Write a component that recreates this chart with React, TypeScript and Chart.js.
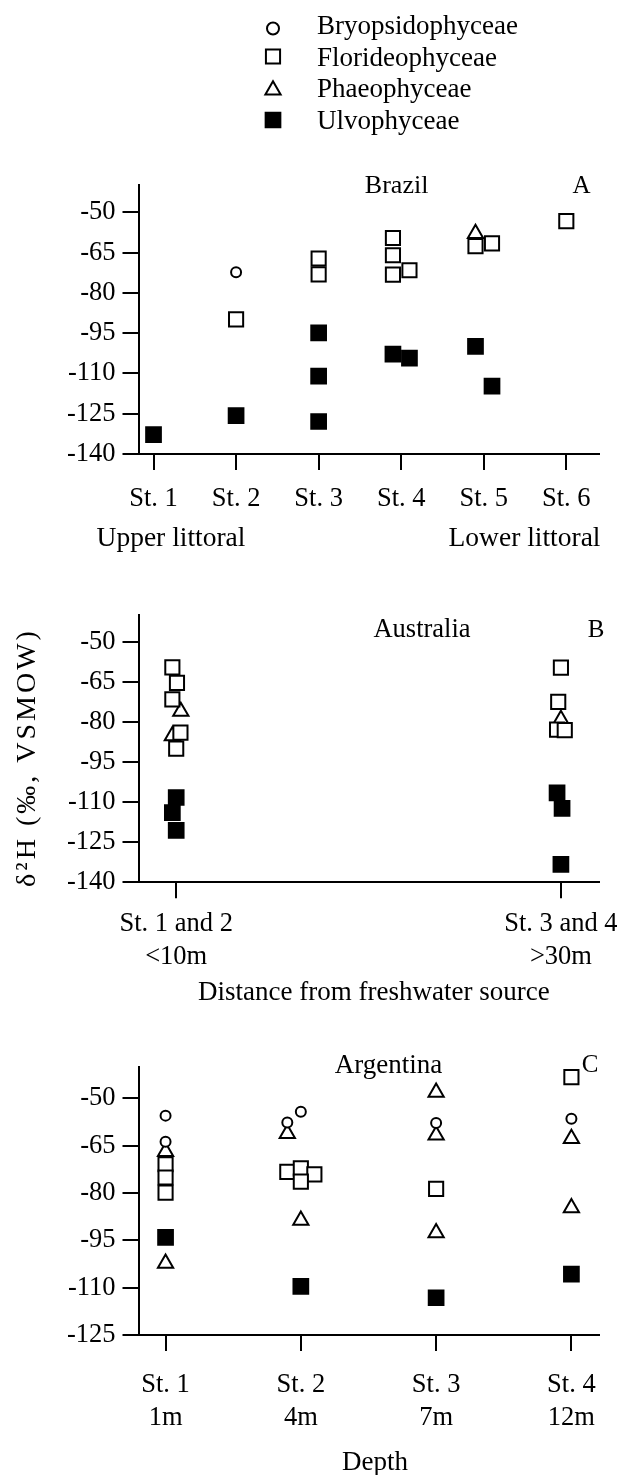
import React, { useEffect, useRef } from 'react';
import { Chart, registerables } from 'chart.js';

Chart.register(...registerables);

// ---------------- data ----------------
const classNames = ['Bryopsidophyceae', 'Florideophyceae', 'Phaeophyceae', 'Ulvophyceae'];

// Panel A – Brazil
const brazilTitle = 'Brazil';
const brazilLetter = 'A';
const brazilStationPos = [1, 2, 3, 4, 5, 6];
const brazilStations = ['St. 1', 'St. 2', 'St. 3', 'St. 4', 'St. 5', 'St. 6'];
const brazilZoneLabels = ['Upper littoral', 'Lower littoral'];
const brazilYTicks = [-50, -65, -80, -95, -110, -125, -140];
const brazilBryopsidophyceae = [[2, -72.3]];
const brazilFlorideophyceae = [
  [2, -89.9], [3, -67.2], [3, -73.1], [3.9, -59.6], [3.9, -66.0], [3.9, -73.2],
  [4.1, -71.6], [4.9, -62.6], [5.1, -61.6], [6, -53.3],
];
const brazilPhaeophyceae = [[4.9, -57.9]];
const brazilUlvophyceae = [
  [1, -132.8], [2, -125.7], [3, -94.9], [3, -111.0], [3, -127.9],
  [3.9, -102.8], [4.1, -104.3], [4.9, -99.9], [5.1, -114.7],
];

// Panel B – Australia
const australiaTitle = 'Australia';
const australiaLetter = 'B';
const australiaSitePos = [1, 2];
const australiaSites = [['St. 1 and 2', '<10m'], ['St. 3 and 4', '>30m']];
const australiaXTitle = 'Distance from freshwater source';
const australiaYTicks = [-50, -65, -80, -95, -110, -125, -140];
const australiaBryopsidophyceae: number[][] = [];
const australiaFlorideophyceae = [
  [0.99, -59.6], [1.002, -65.4], [0.99, -71.6], [1.011, -84.0], [1.0, -90.0],
  [2.0, -59.7], [1.993, -72.5], [1.99, -82.9], [2.01, -83.1],
];
const australiaPhaeophyceae = [[1.012, -76.1], [0.99, -85.2], [2.0, -79.1]];
const australiaUlvophyceae = [
  [1.0, -108.3], [0.99, -114.0], [1.0, -120.6],
  [1.99, -106.6], [2.003, -112.4], [2.0, -133.3],
];

// Panel C – Argentina
const argentinaTitle = 'Argentina';
const argentinaLetter = 'C';
const argentinaStationPos = [1, 2, 3, 4];
const argentinaStations = [['St. 1', '1m'], ['St. 2', '4m'], ['St. 3', '7m'], ['St. 4', '12m']];
const argentinaXTitle = 'Depth';
const argentinaYTicks = [-50, -65, -80, -95, -110, -125];
const argentinaBryopsidophyceae = [[1, -55.5], [1, -63.8], [2, -54.3], [1.9, -57.7], [3, -57.8], [4, -56.5]];
const argentinaFlorideophyceae = [
  [1, -70.9], [1, -75.1], [1, -79.9], [1.9, -73.3], [2, -72.2], [2.1, -74.1], [2, -76.4],
  [3, -78.7], [4, -43.3],
];
const argentinaPhaeophyceae = [
  [1, -66.9], [1, -102.3], [1.9, -61.2], [2, -88.7], [3, -48.1], [3, -61.7], [3, -92.6],
  [4, -62.8], [4, -84.7],
];
const argentinaUlvophyceae = [[1, -94.1], [2, -109.6], [3, -113.2], [4, -105.7]];

const yAxisTitle = 'δ²H (‰, VSMOW)';

// ---------------- styles ----------------
const FONT = '"Liberation Serif", "Times New Roman", serif';
const markerStyles = [
  { shape: 'circle', r: 5, fill: '#ffffff' },
  { shape: 'rect', r: 10, fill: '#ffffff' },
  { shape: 'triangle', r: 8.8, fill: '#ffffff' },
  { shape: 'rect', r: 10.4, fill: '#000000' },
];
const legendMarkerStyles = [
  { shape: 'circle', r: 6, fill: '#ffffff' },
  { shape: 'rect', r: 10, fill: '#ffffff' },
  { shape: 'triangle', r: 8.8, fill: '#ffffff' },
  { shape: 'rect', r: 10.4, fill: '#000000' },
];

type TextItem = { text: string; x: number; y: number; size: number; align?: CanvasTextAlign; rotate?: boolean; spacing?: number };

function drawMarker(ctx: CanvasRenderingContext2D, idx: number, x: number, y: number) {
  const st = legendMarkerStyles[idx];
  ctx.save();
  ctx.lineWidth = 2;
  ctx.strokeStyle = '#000';
  ctx.fillStyle = st.fill;
  ctx.beginPath();
  if (st.shape === 'circle') {
    ctx.arc(x, y, st.r, 0, Math.PI * 2);
  } else if (st.shape === 'rect') {
    const s = st.r * Math.SQRT1_2;
    ctx.rect(x - s, y - s, 2 * s, 2 * s);
  } else {
    let a = 0;
    ctx.moveTo(x + Math.sin(a) * st.r, y - Math.cos(a) * st.r);
    a += (2 * Math.PI) / 3;
    ctx.lineTo(x + Math.sin(a) * st.r, y - Math.cos(a) * st.r);
    a += (2 * Math.PI) / 3;
    ctx.lineTo(x + Math.sin(a) * st.r, y - Math.cos(a) * st.r);
  }
  ctx.closePath();
  ctx.fill();
  ctx.stroke();
  ctx.restore();
}

function textPlugin(items: TextItem[], offsetY: number, withLegend: boolean) {
  return {
    id: 'annotations',
    afterDraw(chart: any) {
      const ctx: CanvasRenderingContext2D = chart.ctx;
      ctx.save();
      ctx.fillStyle = '#000';
      ctx.textBaseline = 'alphabetic';
      for (const it of items) {
        ctx.font = `${it.size}px ${FONT}`;
        (ctx as any).letterSpacing = `${it.spacing || 0}px`;
        ctx.textAlign = it.align || 'center';
        if (it.rotate) {
          ctx.save();
          ctx.translate(it.x, it.y - offsetY);
          ctx.rotate(-Math.PI / 2);
          ctx.fillText(it.text, 0, 0);
          ctx.restore();
        } else {
          ctx.fillText(it.text, it.x, it.y - offsetY);
        }
      }
      (ctx as any).letterSpacing = '0px';
      if (withLegend) {
        const baselines = [34, 65.5, 97, 128.5];
        const markerY = [28.5, 56.5, 90, 120];
        ctx.font = `27px ${FONT}`;
        ctx.textAlign = 'left';
        classNames.forEach((name, i) => {
          drawMarker(ctx, i, 273, markerY[i] - offsetY);
          ctx.fillStyle = '#000';
          ctx.fillText(name, 317, baselines[i] - offsetY);
        });
      }
      ctx.restore();
    },
  };
}

type PanelDef = {
  top: number;
  height: number;
  padTop: number;
  xHeight: number;
  xMin: number;
  xMax: number;
  yMin: number;
  yMax: number;
  xTicks: number[];
  xLabels: (string | string[])[];
  yTicks: number[];
  xPad: number;
  lineHeight: number;
  series: number[][][];
  texts: TextItem[];
  legend: boolean;
};

const panels: PanelDef[] = [
  {
    top: 0, height: 560, padTop: 185.4, xHeight: 106,
    xMin: 0.818, xMax: 6.396, yMin: -140, yMax: -40,
    xTicks: brazilStationPos, xLabels: brazilStations, yTicks: brazilYTicks,
    xPad: 13.5, lineHeight: 1.2,
    series: [brazilBryopsidophyceae, brazilFlorideophyceae, brazilPhaeophyceae, brazilUlvophyceae],
    texts: [
      { text: brazilTitle, x: 396.6, y: 193, size: 26 },
      { text: brazilLetter, x: 581.5, y: 193, size: 25 },
      { text: brazilZoneLabels[0], x: 171, y: 546, size: 27.5 },
      { text: brazilZoneLabels[1], x: 524.5, y: 546, size: 27.5 },
    ],
    legend: true,
  },
  {
    top: 560, height: 450, padTop: 55.0, xHeight: 127.8,
    xMin: 0.902, xMax: 2.099, yMin: -140, yMax: -40,
    xTicks: australiaSitePos, xLabels: australiaSites, yTicks: australiaYTicks,
    xPad: 9, lineHeight: 1.257,
    series: [australiaBryopsidophyceae, australiaFlorideophyceae, australiaPhaeophyceae, australiaUlvophyceae],
    texts: [
      { text: australiaTitle, x: 422, y: 636.7, size: 26.5 },
      { text: australiaLetter, x: 596, y: 636.7, size: 25 },
      { text: australiaXTitle, x: 373.9, y: 1000, size: 27 },
      { text: yAxisTitle, x: 35, y: 757.5, size: 28, rotate: true, spacing: 3 },
    ],
    legend: false,
  },
  {
    top: 1010, height: 465, padTop: 56.7, xHeight: 140,
    xMin: 0.8, xMax: 4.204, yMin: -125, yMax: -40,
    xTicks: argentinaStationPos, xLabels: argentinaStations, yTicks: argentinaYTicks,
    xPad: 18.2, lineHeight: 1.223,
    series: [argentinaBryopsidophyceae, argentinaFlorideophyceae, argentinaPhaeophyceae, argentinaUlvophyceae],
    texts: [
      { text: argentinaTitle, x: 388.6, y: 1073, size: 27 },
      { text: argentinaLetter, x: 590, y: 1072, size: 25 },
      { text: argentinaXTitle, x: 374.9, y: 1470, size: 27 },
    ],
    legend: false,
  },
];

function buildConfig(p: PanelDef): any {
  return {
    type: 'scatter',
    data: {
      datasets: classNames.map((name, i) => ({
        label: name,
        data: p.series[i].map(([x, y]) => ({ x, y })),
        pointStyle: markerStyles[i].shape,
        pointRadius: markerStyles[i].r,
        pointHoverRadius: markerStyles[i].r,
        pointBackgroundColor: markerStyles[i].fill,
        pointBorderColor: '#000',
        pointBorderWidth: 2,
        showLine: false,
        clip: false,
      })),
    },
    options: {
      responsive: false,
      animation: false,
      events: [],
      layout: { padding: { top: p.padTop, left: 0, right: 18, bottom: 0 } },
      plugins: { legend: { display: false }, tooltip: { enabled: false }, title: { display: false } },
      scales: {
        x: {
          type: 'linear',
          bounds: 'data',
          min: p.xMin,
          max: p.xMax,
          afterBuildTicks: (s: any) => {
            s.ticks = p.xTicks.map((v) => ({ value: v }));
          },
          afterFit: (s: any) => {
            s.height = p.xHeight;
            s.paddingLeft = 0;
            s.paddingRight = 0;
          },
          ticks: {
            autoSkip: false,
            maxRotation: 0,
            minRotation: 0,
            padding: p.xPad,
            color: '#000',
            font: { family: FONT, size: 26.5, lineHeight: p.lineHeight },
            callback: (_v: any, i: number) => p.xLabels[i],
          },
          grid: { display: true, drawOnChartArea: false, drawTicks: true, tickLength: 16, color: '#000', lineWidth: 2 },
          border: { display: true, color: '#000', width: 2 },
        },
        y: {
          type: 'linear',
          bounds: 'data',
          min: p.yMin,
          max: p.yMax,
          afterBuildTicks: (s: any) => {
            s.ticks = p.yTicks.map((v) => ({ value: v }));
          },
          afterFit: (s: any) => {
            s.width = 138.5;
          },
          ticks: {
            autoSkip: false,
            padding: 7,
            color: '#000',
            font: { family: FONT, size: 26.5 },
            callback: (v: any) => String(v),
          },
          grid: { display: true, drawOnChartArea: false, drawTicks: true, tickLength: 16, color: '#000', lineWidth: 2 },
          border: { display: true, color: '#000', width: 2 },
        },
      },
    },
    plugins: [textPlugin(p.texts, p.top, p.legend)],
  };
}

function Panel({ p }: { p: PanelDef }) {
  const ref = useRef<HTMLCanvasElement | null>(null);
  useEffect(() => {
    if (!ref.current) return;
    const chart = new Chart(ref.current, buildConfig(p));
    return () => chart.destroy();
  }, [p]);
  return (
    <canvas
      ref={ref}
      width={617}
      height={p.height}
      style={{ position: 'absolute', left: 0, top: p.top, width: 617, height: p.height, display: 'block' }}
    />
  );
}

export default function App() {
  return (
    <div style={{ position: 'absolute', left: 0, top: 0, width: 617, height: 1475, background: '#ffffff', overflow: 'hidden' }}>
      {panels.map((p, i) => (
        <Panel key={i} p={p} />
      ))}
    </div>
  );
}
